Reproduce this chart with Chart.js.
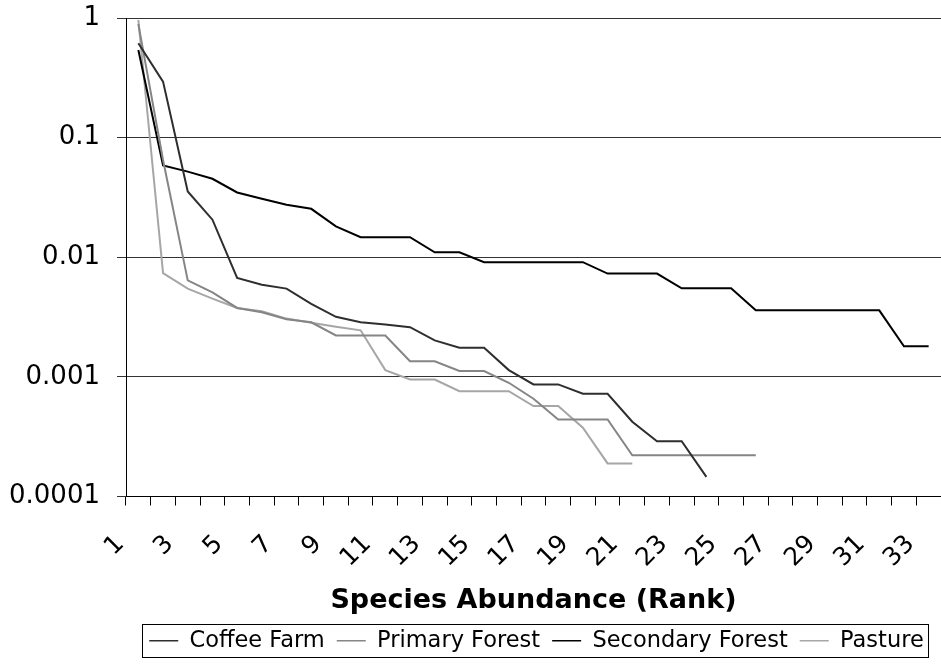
<!DOCTYPE html>
<html>
<head>
<meta charset="utf-8">
<script src="https://cdn.jsdelivr.net/npm/chart.js@4/dist/chart.umd.min.js"></script>
<style>
html,body{margin:0;padding:0;background:#fff;overflow:hidden}
#wrap{width:941px;height:664px;position:relative}
</style>
</head>
<body>
<div id="wrap"><canvas id="c" width="941" height="664"></canvas></div>
<script>
// ---- data ----
const categories = ['1','2','3','4','5','6','7','8','9','10','11','12','13','14','15','16','17','18','19','20','21','22','23','24','25','26','27','28','29','30','31','32','33'];
const seriesNames = ['Coffee Farm', 'Primary Forest', 'Secondary Forest', 'Pasture'];
const coffeeFarm = [0.615, 0.294, 0.0355, 0.0206, 0.00672, 0.0059, 0.00547, 0.00408, 0.00318, 0.00286, 0.00274, 0.0026, 0.00202, 0.00175, 0.00175, 0.00114, 0.000865, 0.000865, 0.000723, 0.000723, 0.000422, 0.00029, 0.00029, 0.000146];
const primaryForest = [0.89, 0.065, 0.00641, 0.00509, 0.00377, 0.00347, 0.00303, 0.00286, 0.00222, 0.00222, 0.00222, 0.00135, 0.00135, 0.00112, 0.00112, 0.000893, 0.000656, 0.000441, 0.000441, 0.000441, 0.000221, 0.000221, 0.000221, 0.000221, 0.000221, 0.000221];
const secondaryForest = [0.54, 0.0585, 0.052, 0.0453, 0.0348, 0.0308, 0.0275, 0.0254, 0.0181, 0.0147, 0.0147, 0.0147, 0.011, 0.011, 0.0091, 0.0091, 0.0091, 0.0091, 0.0091, 0.0073, 0.0073, 0.0073, 0.0055, 0.0055, 0.0055, 0.0036, 0.0036, 0.0036, 0.0036, 0.0036, 0.0036, 0.0018, 0.0018];
const pasture = [0.962, 0.00737, 0.00547, 0.00451, 0.00377, 0.00353, 0.00307, 0.00283, 0.00262, 0.00245, 0.00114, 0.00095, 0.00095, 0.00076, 0.00076, 0.00076, 0.00057, 0.00057, 0.000376, 0.000189, 0.000189];
const yTickValues = [0.0001, 0.001, 0.01, 0.1, 1];
const yTickLabels = ['0.0001', '0.001', '0.01', '0.1', '1'];
const xAxisTitle = 'Species Abundance (Rank)';

// ---- styles ----
const seriesColors = ['#2e2e2e', '#858585', '#000000', '#a6a6a6'];
const FONT = 'DejaVu Sans';
Chart.defaults.font.family = FONT;
Chart.defaults.color = '#000';

const seriesData = [coffeeFarm, primaryForest, secondaryForest, pasture];

const legendFrame = {
  id: 'legendFrame',
  afterLayout(chart) {
    const lg = chart.legend;
    const ca = chart.chartArea;
    const dx = (ca.left + ca.right) / 2 + 3 - (lg.left + lg.right) / 2;
    lg.left += dx;
    lg.right += dx;
  },
  afterDraw(chart) {
    const lg = chart.legend;
    const hb = lg.legendHitBoxes;
    if (!hb || !hb.length) return;
    let l = Infinity, r = -Infinity;
    hb.forEach(b => { l = Math.min(l, b.left); r = Math.max(r, b.left + b.width); });
    const mid = hb[0].top + hb[0].height / 2;
    const ctx = chart.ctx;
    ctx.save();
    ctx.strokeStyle = '#000';
    ctx.lineWidth = 1;
    ctx.strokeRect(Math.round(l - 7) + 0.5, Math.round(mid - 16.5) + 0.5, Math.round(r - l + 11), 33);
    ctx.restore();
  }
};

new Chart(document.getElementById('c'), {
  type: 'line',
  data: {
    labels: categories,
    datasets: seriesNames.map((name, i) => ({
      label: name,
      data: seriesData[i],
      borderColor: seriesColors[i],
      backgroundColor: seriesColors[i],
      borderWidth: 2,
      pointRadius: 0,
      pointHoverRadius: 0,
      tension: 0,
      fill: false
    }))
  },
  options: {
    responsive: false,
    animation: false,
    devicePixelRatio: 1,
    layout: { padding: { top: 18, right: 0, bottom: 2, left: 0 } },
    plugins: {
      tooltip: { enabled: false },
      legend: {
        display: true,
        position: 'bottom',
        align: 'center',
        labels: {
          usePointStyle: true,
          pointStyle: 'line',
          pointStyleWidth: 29,
          boxHeight: 22,
          padding: 12,
          color: '#000',
          font: { family: FONT, size: 22.5 },
          generateLabels: (chart) => Chart.defaults.plugins.legend.labels.generateLabels(chart).map(l => Object.assign(l, { lineWidth: 1.5 }))
        }
      }
    },
    scales: {
      x: {
        type: 'category',
        offset: true,
        grid: { display: true, offset: true, drawOnChartArea: false, drawTicks: true, tickLength: 9, color: '#000', lineWidth: 1 },
        border: { display: true, color: '#000', width: 1 },
        ticks: {
          autoSkip: false, minRotation: 45, maxRotation: 45,
          color: '#000', font: { family: FONT, size: 25 },
          padding: 24, labelOffset: -18,
          callback: (v, i) => (i % 2 === 0 ? categories[i] : '')
        },
        title: { display: true, text: xAxisTitle, color: '#000', font: { family: FONT, size: 27, weight: 'bold' }, padding: { top: 0, bottom: 0 } },
        afterFit: s => { s.height = 121; s.paddingLeft = 0; s.paddingRight = 0; }
      },
      y: {
        type: 'logarithmic',
        min: 0.0001,
        max: 1,
        afterBuildTicks: s => { s.ticks = yTickValues.map(v => ({ value: v })); },
        ticks: {
          autoSkip: false, color: '#000', font: { family: FONT, size: 26 }, padding: 17,
          callback: (v) => { const i = yTickValues.indexOf(v); return i >= 0 ? yTickLabels[i] : ''; }
        },
        grid: { color: '#333', tickLength: 9, drawTicks: true, lineWidth: 1 },
        border: { display: true, color: '#000', width: 1 },
        afterFit: s => { s.width = 126; s.paddingTop = 0; s.paddingBottom = 0; }
      }
    }
  },
  plugins: [legendFrame]
});
</script>
</body>
</html>
